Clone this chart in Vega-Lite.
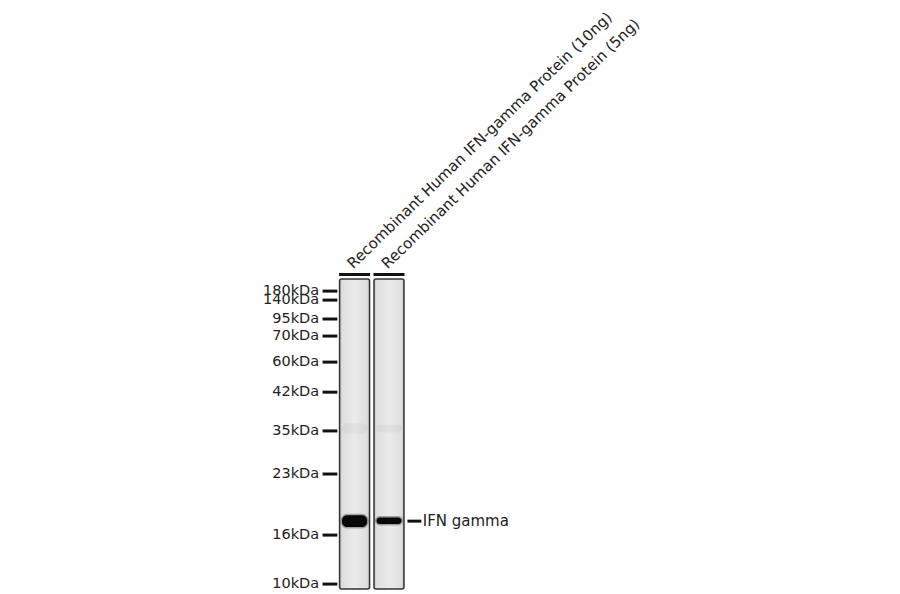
{
  "$schema": "https://vega.github.io/schema/vega-lite/v6.json",
  "width": 900,
  "height": 594,
  "padding": 0,
  "autosize": {"type": "fit", "contains": "padding"},
  "background": "white",
  "config": {
    "view": {"stroke": null},
    "text": {"font": "DejaVu Sans", "color": "#222"}
  },
  "datasets": {
    "lanes": [
      {"lane": 1, "sample": "Recombinant Human IFN-gamma Protein (10ng)"},
      {"lane": 2, "sample": "Recombinant Human IFN-gamma Protein (5ng)"}
    ],
    "markers": [
      {"marker": "180kDa", "mobility": 0.039},
      {"marker": "140kDa", "mobility": 0.068},
      {"marker": "95kDa", "mobility": 0.129},
      {"marker": "70kDa", "mobility": 0.184},
      {"marker": "60kDa", "mobility": 0.268},
      {"marker": "42kDa", "mobility": 0.365},
      {"marker": "35kDa", "mobility": 0.49},
      {"marker": "23kDa", "mobility": 0.629},
      {"marker": "16kDa", "mobility": 0.826},
      {"marker": "10kDa", "mobility": 0.984}
    ],
    "bands": [
      {"lane": 1, "amount_ng": 10, "top": 0.762, "bottom": 0.8},
      {"lane": 2, "amount_ng": 5, "top": 0.769, "bottom": 0.79}
    ],
    "smears": [
      {"lane": 1, "top": 0.465, "bottom": 0.5},
      {"lane": 2, "top": 0.47, "bottom": 0.495}
    ],
    "target": [
      {"target": "IFN gamma", "mobility": 0.781}
    ]
  },
  "layer": [
    {
      "data": {"name": "lanes"},
      "mark": {
        "type": "bar",
        "width": 30,
        "cornerRadius": 2,
        "stroke": "#333",
        "strokeWidth": 1.5,
        "fill": {
          "gradient": "linear",
          "x1": 0, "y1": 0, "x2": 1, "y2": 0,
          "stops": [
            {"offset": 0, "color": "#b8b8b8"},
            {"offset": 0.08, "color": "#dedede"},
            {"offset": 0.5, "color": "#ebebeb"},
            {"offset": 0.92, "color": "#dedede"},
            {"offset": 1, "color": "#b8b8b8"}
          ]
        }
      },
      "encoding": {
        "x": {"field": "lane", "type": "quantitative", "axis": null, "scale": {"domain": [-9.158, 16.704], "zero": false, "nice": false}},
        "y": {"datum": 0, "type": "quantitative", "axis": null, "scale": {"domain": [-0.9, 1.016], "zero": false, "nice": false, "reverse": true}},
        "y2": {"datum": 1}
      }
    },
    {
      "data": {"name": "smears"},
      "mark": {"type": "bar", "width": 26, "cornerRadius": 6, "fill": "#000", "opacity": 0.035},
      "encoding": {
        "x": {"field": "lane", "type": "quantitative"},
        "y": {"field": "top", "type": "quantitative"},
        "y2": {"field": "bottom"}
      }
    },
    {
      "data": {"name": "bands"},
      "mark": {"type": "bar", "width": 25, "cornerRadius": 5, "fill": "#080808", "stroke": "#000", "strokeOpacity": 0.3, "strokeWidth": 3},
      "encoding": {
        "x": {"field": "lane", "type": "quantitative"},
        "y": {"field": "top", "type": "quantitative"},
        "y2": {"field": "bottom"}
      }
    },
    {
      "data": {"name": "lanes"},
      "mark": {"type": "bar", "width": 31, "fill": "#111"},
      "encoding": {
        "x": {"field": "lane", "type": "quantitative"},
        "y": {"datum": -0.0194, "type": "quantitative"},
        "y2": {"datum": -0.0097}
      }
    },
    {
      "data": {"name": "lanes"},
      "mark": {"type": "text", "angle": -44, "align": "left", "baseline": "alphabetic", "fontSize": 15, "dx": -1, "dy": -1},
      "encoding": {
        "x": {"field": "lane", "type": "quantitative"},
        "y": {"datum": -0.031, "type": "quantitative"},
        "text": {"field": "sample"}
      }
    },
    {
      "data": {"name": "markers"},
      "mark": {"type": "rule", "strokeWidth": 3, "color": "#111"},
      "encoding": {
        "x": {"datum": 0.07, "type": "quantitative"},
        "x2": {"datum": 0.5},
        "y": {"field": "mobility", "type": "quantitative"}
      }
    },
    {
      "data": {"name": "markers"},
      "mark": {"type": "text", "align": "right", "baseline": "middle", "fontSize": 14.5, "dx": -1},
      "encoding": {
        "x": {"datum": 0, "type": "quantitative"},
        "y": {"field": "mobility", "type": "quantitative"},
        "text": {"field": "marker"}
      }
    },
    {
      "data": {"name": "target"},
      "mark": {"type": "rule", "strokeWidth": 3, "color": "#111"},
      "encoding": {
        "x": {"datum": 2.537, "type": "quantitative"},
        "x2": {"datum": 2.94},
        "y": {"field": "mobility", "type": "quantitative"}
      }
    },
    {
      "data": {"name": "target"},
      "mark": {"type": "text", "align": "left", "baseline": "middle", "fontSize": 15},
      "encoding": {
        "x": {"datum": 2.98, "type": "quantitative"},
        "y": {"field": "mobility", "type": "quantitative"},
        "text": {"field": "target"}
      }
    }
  ]
}
